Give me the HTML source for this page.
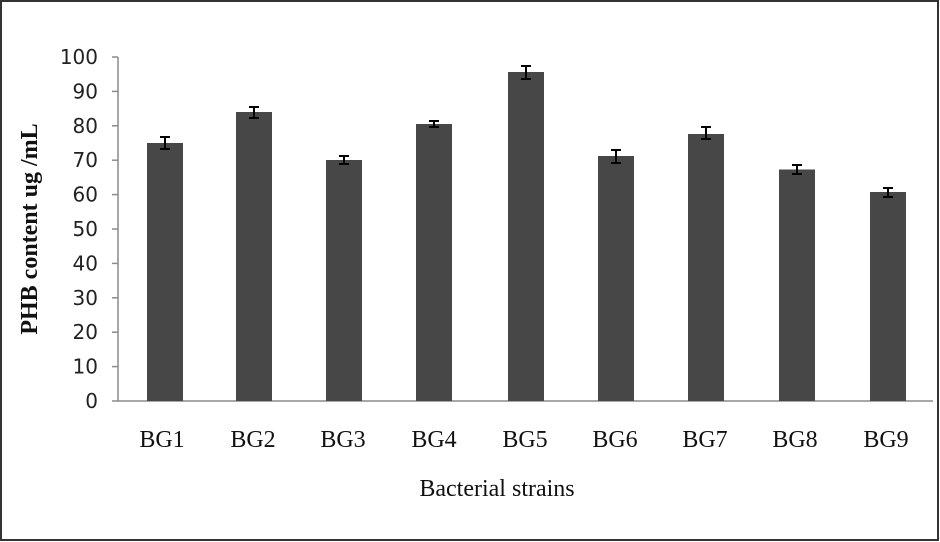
<!DOCTYPE html>
<html><head><meta charset="utf-8"><style>body{margin:0;background:#fff}svg{display:block}</style></head>
<body>
<svg width="940" height="542" viewBox="0 0 940 542" xmlns="http://www.w3.org/2000/svg">
<rect x="1" y="1" width="937" height="539" fill="#fff" stroke="#333" stroke-width="2"/>
<g stroke="#8c8c8c" stroke-width="1.5" fill="none">
<line x1="118" y1="57" x2="118" y2="401"/>
<line x1="118" y1="401" x2="933" y2="401"/>
<line x1="112" y1="57" x2="118" y2="57"/>
<line x1="112" y1="91.4" x2="118" y2="91.4"/>
<line x1="112" y1="125.8" x2="118" y2="125.8"/>
<line x1="112" y1="160.2" x2="118" y2="160.2"/>
<line x1="112" y1="194.6" x2="118" y2="194.6"/>
<line x1="112" y1="229" x2="118" y2="229"/>
<line x1="112" y1="263.4" x2="118" y2="263.4"/>
<line x1="112" y1="297.8" x2="118" y2="297.8"/>
<line x1="112" y1="332.2" x2="118" y2="332.2"/>
<line x1="112" y1="366.6" x2="118" y2="366.6"/>
<line x1="112" y1="401" x2="118" y2="401"/>
</g>
<g font-family="'DejaVu Sans','Liberation Sans',sans-serif" font-size="20" fill="#222" text-anchor="end">
<text x="98" y="64">100</text><text x="98" y="98.4">90</text><text x="98" y="132.8">80</text><text x="98" y="167.2">70</text><text x="98" y="201.6">60</text><text x="98" y="236">50</text><text x="98" y="270.4">40</text><text x="98" y="304.8">30</text><text x="98" y="339.2">20</text><text x="98" y="373.6">10</text><text x="98" y="408">0</text>
</g>
<g fill="#474747">
<rect x="147" y="143" width="36" height="258"/>
<rect x="236" y="112" width="36" height="289"/>
<rect x="326" y="160" width="36" height="241"/>
<rect x="416" y="124" width="36" height="277"/>
<rect x="508" y="72" width="36" height="329"/>
<rect x="598" y="156" width="36" height="245"/>
<rect x="688" y="134" width="36" height="267"/>
<rect x="779" y="169.5" width="36" height="231.5"/>
<rect x="870" y="192" width="36" height="209"/>
</g>
<g stroke="#000" stroke-width="2" fill="none">
<path d="M165 137V149M160 137H170M160 149H170"/>
<path d="M254 107V118M249 107H259M249 118H259"/>
<path d="M344 156V164M339 156H349M339 164H349"/>
<path d="M434 121V127M429 121H439M429 127H439"/>
<path d="M526 66V79M521 66H531M521 79H531"/>
<path d="M616 150V163M611 150H621M611 163H621"/>
<path d="M706 127V139M701 127H711M701 139H711"/>
<path d="M797 165V174M792 165H802M792 174H802"/>
<path d="M888 188V197M883 188H893M883 197H893"/>
</g>
<g font-family="'Liberation Serif',serif" font-size="24" fill="#111" text-anchor="middle">
<text x="162" y="447">BG1</text><text x="253" y="447">BG2</text><text x="343" y="447">BG3</text><text x="434" y="447">BG4</text><text x="525" y="447">BG5</text><text x="615" y="447">BG6</text><text x="705" y="447">BG7</text><text x="795" y="447">BG8</text><text x="886" y="447">BG9</text>
<text x="497" y="496">Bacterial strains</text>
<text transform="translate(37,229) rotate(-90)" font-weight="bold">PHB content ug /mL</text>
</g>
</svg>
</body></html>
